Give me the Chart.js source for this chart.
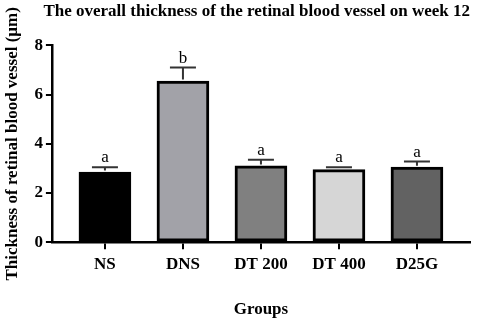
<!DOCTYPE html>
<html>
<head>
<meta charset="utf-8">
<script src="https://cdn.jsdelivr.net/npm/chart.js@4"></script>
<style>
  html, body { margin: 0; padding: 0; background: #fff; }
  #wrap { width: 477px; height: 320px; }
</style>
</head>
<body>
<div id="wrap"><canvas id="myChart"></canvas></div>
<script>
// groups and values
var groups = ['NS', 'DNS', 'DT 200', 'DT 400', 'D25G'];
var thickness = [2.85, 6.55, 3.1, 2.95, 3.05];
var errTop = [3.05, 7.1, 3.35, 3.05, 3.28];
var letters = ['a', 'b', 'a', 'a', 'a'];
var barColors = ['#000000', '#a2a2a8', '#808080', '#d6d6d6', '#626262'];
var yTicks = [0, 2, 4, 6, 8];

var serif = '"Liberation Serif", "Times New Roman", serif';

// error bar (upper whisker) + letters
var errorBars = {
    id: 'errorBars',
    afterDatasetsDraw: function (chart) {
        var ctx = chart.ctx;
        var x = chart.scales.x;
        var y = chart.scales.y;
        ctx.save();
        for (var i = 0; i < groups.length; i++) {
            var cx = x.getPixelForValue(i);
            var yv = y.getPixelForValue(thickness[i]);
            var ye = y.getPixelForValue(errTop[i]);
            ctx.strokeStyle = '#333';
            ctx.lineWidth = 2;
            ctx.beginPath();
            ctx.moveTo(cx, yv - 1.5);
            ctx.lineTo(cx, ye);
            ctx.moveTo(cx - 13, ye);
            ctx.lineTo(cx + 13, ye);
            ctx.stroke();
            ctx.fillStyle = '#000';
            ctx.font = '17px ' + serif;
            ctx.textAlign = 'center';
            ctx.textBaseline = 'alphabetic';
            ctx.fillText(letters[i], cx, ye - 5);
        }
        ctx.restore();
    }
};

var ctx = document.getElementById('myChart');

var myChart = new Chart(ctx, {
    type: 'bar',
    data: {
        datasets: [{
            data: thickness.map(function (v, i) { return { x: i, y: v }; }),
            backgroundColor: barColors,
            borderColor: '#000',
            borderWidth: 3,
            borderSkipped: false,
            barThickness: 52
        }]
    },
    plugins: [errorBars],
    options: {
        responsive: true,
        maintainAspectRatio: false,
        animation: false,
        layout: { padding: { left: 2, right: 7, top: 0, bottom: 0 } },
        plugins: {
            legend: { display: false },
            tooltip: { enabled: false },
            title: {
                display: true,
                text: 'The overall thickness of the retinal blood vessel on week 12',
                align: 'end',
                color: '#000',
                font: { family: serif, size: 17, weight: 'bold' },
                padding: { top: 1, bottom: 24 }
            }
        },
        scales: {
            x: {
                type: 'linear',
                offset: false,
                min: -0.68,
                max: 4.68,
                afterBuildTicks: function (axis) {
                    axis.ticks = groups.map(function (g, i) { return { value: i }; });
                },
                ticks: {
                    color: '#000',
                    font: { family: serif, size: 17, weight: 'bold' },
                    padding: 5,
                    maxRotation: 0,
                    autoSkip: false,
                    callback: function (v) { return groups[v]; }
                },
                grid: {
                    offset: false,
                    drawOnChartArea: false,
                    color: '#000',
                    lineWidth: 2,
                    tickLength: 7
                },
                border: { color: '#000', width: 2.5 },
                title: {
                    display: true,
                    text: 'Groups',
                    color: '#000',
                    font: { family: serif, size: 17, weight: 'bold' },
                    padding: { top: 20, bottom: 0 }
                }
            },
            y: {
                min: 0,
                max: 8,
                afterBuildTicks: function (axis) {
                    axis.ticks = yTicks.map(function (v) { return { value: v }; });
                },
                ticks: {
                    color: '#000',
                    font: { family: serif, size: 17, weight: 'bold' },
                    padding: 3
                },
                grid: {
                    drawOnChartArea: false,
                    color: '#000',
                    lineWidth: 2,
                    tickLength: 6
                },
                border: { color: '#000', width: 2.5 },
                title: {
                    display: true,
                    text: 'Thickness of retinal blood vessel (µm)',
                    color: '#000',
                    font: { family: serif, size: 17, weight: 'bold' },
                    padding: { top: 0, bottom: 9 }
                }
            }
        }
    }
});
</script>
</body>
</html>
